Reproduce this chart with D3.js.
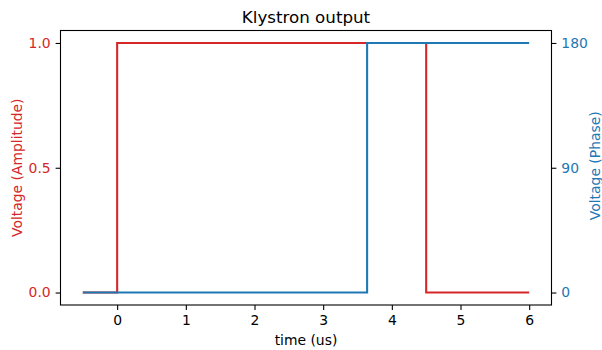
<!DOCTYPE html>
<html>
<head>
<meta charset="utf-8">
<script src="https://cdn.jsdelivr.net/npm/d3@7"></script>
<style>
  body { margin: 0; background: #fff; }
  svg { display: block; font-family: "DejaVu Sans", sans-serif; }
</style>
</head>
<body>
<svg id="chart" width="602" height="350"></svg>
<script>
// Klystron pulse: amplitude envelope and phase, as step signals over time (us)
const ampTime = [-0.5, 0, 0, 4.5, 4.5, 6];
const ampValue = [0, 0, 1, 1, 0, 0];
const phaseTime = [-0.5, 3.64, 3.64, 6];
const phaseValue = [0, 0, 180, 180];
const xTicks = [0, 1, 2, 3, 4, 5, 6];
const ampTicks = [0.0, 0.5, 1.0];
const phaseTicks = [0, 90, 180];

const RED = "#d62728", BLUE = "#1f77b4";
const svg = d3.select("#chart");
const L = 60.5, R = 551.5, T = 30.5, B = 305;

const x = d3.scaleLinear().domain([-0.825, 6.325]).range([L, R]);
const yA = d3.scaleLinear().domain([-0.05, 1.05]).range([B, T]);
const yP = d3.scaleLinear().domain([-9, 189]).range([B, T]);

const tickLen = 4.9, fs = 13.9;

function styleAxis(g, color) {
  g.select(".domain").remove();
  g.selectAll(".tick line").attr("stroke", "#000").attr("stroke-width", 1.1);
  g.selectAll(".tick text").attr("fill", color).attr("font-size", fs)
    .attr("font-family", "DejaVu Sans, sans-serif");
}

// x axis
svg.append("g").attr("transform", `translate(0,${B})`)
  .call(d3.axisBottom(x).tickValues(xTicks).tickFormat(d3.format("d"))
    .tickSize(tickLen).tickPadding(4.9))
  .call(g => styleAxis(g, "#000"));

// left (amplitude) axis
svg.append("g").attr("transform", `translate(${L},0)`)
  .call(d3.axisLeft(yA).tickValues(ampTicks).tickFormat(d3.format(".1f"))
    .tickSize(tickLen).tickPadding(4.9))
  .call(g => styleAxis(g, RED));

// right (phase) axis
svg.append("g").attr("transform", `translate(${R},0)`)
  .call(d3.axisRight(yP).tickValues(phaseTicks).tickFormat(d3.format("d"))
    .tickSize(tickLen).tickPadding(4.9))
  .call(g => styleAxis(g, BLUE));

const ampLine = d3.line().x((d, i) => x(ampTime[i])).y(d => yA(d));
const phaseLine = d3.line().x((d, i) => x(phaseTime[i])).y(d => yP(d));

svg.append("path").attr("d", ampLine(ampValue))
  .attr("fill", "none").attr("stroke", RED).attr("stroke-width", 2.08)
  .attr("stroke-linejoin", "miter").attr("stroke-linecap", "butt");
svg.append("path").attr("d", phaseLine(phaseValue))
  .attr("fill", "none").attr("stroke", BLUE).attr("stroke-width", 2.08)
  .attr("stroke-linejoin", "miter").attr("stroke-linecap", "butt");

// frame
svg.append("rect").attr("x", L).attr("y", T).attr("width", R - L).attr("height", B - T)
  .attr("fill", "none").attr("stroke", "#000").attr("stroke-width", 1.1);

// title and labels
svg.append("text").attr("x", (L + R) / 2).attr("y", T - 8)
  .attr("text-anchor", "middle").attr("font-size", 16.7).text("Klystron output");
svg.append("text").attr("x", (L + R) / 2).attr("y", 345)
  .attr("text-anchor", "middle").attr("font-size", fs).text("time (us)");
svg.append("text")
  .attr("transform", `translate(22,${(T + B) / 2}) rotate(-90)`)
  .attr("text-anchor", "middle").attr("font-size", fs).attr("fill", RED)
  .text("Voltage (Amplitude)");
svg.append("text")
  .attr("transform", `translate(599.5,${(T + B) / 2 - 2}) rotate(-90)`)
  .attr("text-anchor", "middle").attr("font-size", fs).attr("fill", BLUE)
  .text("Voltage (Phase)");
</script>
</body>
</html>
